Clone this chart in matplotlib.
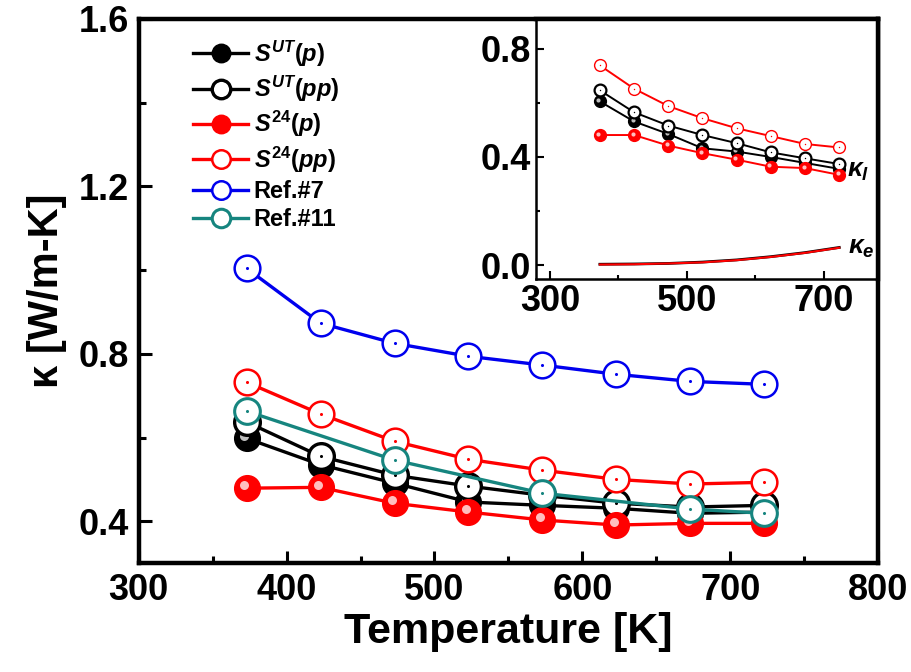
import matplotlib
matplotlib.use('Agg')
import matplotlib.pyplot as plt
from matplotlib.transforms import ScaledTranslation
from matplotlib.ticker import MultipleLocator, FixedLocator

plt.rcParams['font.family'] = ['Liberation Sans', 'DejaVu Sans']
plt.rcParams['font.weight'] = 'bold'
plt.rcParams['mathtext.fontset'] = 'custom'
plt.rcParams['mathtext.it'] = 'Liberation Sans:italic:bold'
plt.rcParams['mathtext.rm'] = 'Liberation Sans:bold'
plt.rcParams['mathtext.bf'] = 'Liberation Sans:bold'

# ---------------- data ----------------
T = [373, 423, 473, 523, 573, 623, 673, 723]
T_ref11 = [373, 473, 573, 673, 723]

k_ut_p = [0.598, 0.535, 0.491, 0.446, 0.438, 0.431, 0.419, 0.422]
k_ut_pp = [0.637, 0.555, 0.510, 0.484, 0.462, 0.443, 0.434, 0.438]
k_24_p = [0.479, 0.481, 0.443, 0.422, 0.403, 0.391, 0.395, 0.395]
k_24_pp = [0.732, 0.656, 0.591, 0.548, 0.522, 0.500, 0.489, 0.493]
k_ref7 = [1.004, 0.873, 0.825, 0.794, 0.773, 0.751, 0.734, 0.727]
k_ref11 = [0.663, 0.546, 0.467, 0.429, 0.419]

# inset: lattice and electronic parts
kl_ut_p = [0.605, 0.531, 0.485, 0.432, 0.420, 0.400, 0.378, 0.356]
kl_ut_pp = [0.646, 0.565, 0.516, 0.481, 0.451, 0.417, 0.395, 0.374]
kl_24_p = [0.481, 0.481, 0.442, 0.414, 0.390, 0.364, 0.359, 0.334]
kl_24_pp = [0.738, 0.652, 0.588, 0.543, 0.506, 0.477, 0.448, 0.435]
ke_ut = [0.004, 0.005, 0.007, 0.012, 0.020, 0.032, 0.047, 0.066]
ke_24 = [0.003, 0.004, 0.007, 0.011, 0.019, 0.031, 0.046, 0.065]

labels = [r'$S^{UT}(p)$', r'$S^{UT}(pp)$', r'$S^{24}(p)$', r'$S^{24}(pp)$', 'Ref.#7', 'Ref.#11']
inset_xticks = [300, 500, 700]
inset_xminor = [400, 600]

RED = '#ff0000'
BLUE = '#0000ee'
TEAL = '#16857f'

fig = plt.figure(figsize=(9.12, 6.72), dpi=100)
ax = fig.add_axes([0.152, 0.162, 0.811, 0.810])


def filled(a, x, y, color, ms, lw, label=None, hl=2.0):
    a.plot(x, y, '-', color=color, lw=lw, marker='o', ms=ms, mfc=color, mec=color, label=label)
    off = ScaledTranslation(-hl / 72, hl / 72, fig.dpi_scale_trans)
    a.plot(x, y, ls='none', marker='o', ms=ms * 0.35, mfc='white', mec='none', alpha=0.75,
           transform=a.transData + off)


def opened(a, x, y, color, ms, lw, mew, label=None, dotc=None):
    a.plot(x, y, '-', color=color, lw=lw, marker='o', ms=ms, mfc='white', mec=color, mew=mew, label=label)
    a.plot(x, y, ls='none', marker='o', ms=ms * 0.12, mfc=dotc or color, mec='none')


lw = 2.4
ms = 18.5
filled(ax, T, k_ut_p, 'black', ms, lw, labels[0])
opened(ax, T, k_ut_pp, 'black', ms, lw, 2.4, labels[1])
filled(ax, T, k_24_p, RED, ms, lw, labels[2])
opened(ax, T, k_24_pp, RED, ms, lw, 1.8, labels[3])
opened(ax, T, k_ref7, BLUE, ms, lw, 1.8, labels[4])
opened(ax, T_ref11, k_ref11, TEAL, ms, lw, 2.2, labels[5])

ax.set_xlim(300, 800)
ax.set_ylim(0.3, 1.6)
ax.xaxis.set_major_locator(MultipleLocator(100))
ax.xaxis.set_minor_locator(MultipleLocator(50))
ax.yaxis.set_major_locator(MultipleLocator(0.4))
ax.yaxis.set_minor_locator(MultipleLocator(0.2))
ax.yaxis.set_major_formatter(plt.FuncFormatter(lambda v, p: f'{v:.1f}'))
ax.tick_params(which='both', direction='in', top=False, right=False, width=2.2)
ax.tick_params(which='major', length=9, labelsize=26, pad=7)
ax.tick_params(which='minor', length=5)
for s in ax.spines.values():
    s.set_linewidth(3.2)
ax.set_xlabel('Temperature [K]', fontsize=31, fontweight='bold', labelpad=3)
ax.set_ylabel('κ [W/m-K]', fontsize=30, fontweight='bold', labelpad=8)

# legend (only the main handles)
handles, labs = ax.get_legend_handles_labels()
leg = ax.legend(handles, labs, loc='upper left', bbox_to_anchor=(0.055, 0.99), frameon=False,
                fontsize=17, handlelength=2.3, handletextpad=0.25, labelspacing=0.22,
                markerscale=0.72, borderaxespad=0.2)

# ---------------- inset ----------------
ins = fig.add_axes([0.588, 0.585, 0.375, 0.387])
ims = 8.5
ilw = 1.4
filled(ins, T, kl_ut_p, 'black', ims, ilw, hl=1.0)
opened(ins, T, kl_ut_pp, 'black', ims, ilw, 1.6)
filled(ins, T, kl_24_p, RED, ims, ilw, hl=1.0)
opened(ins, T, kl_24_pp, RED, ims, ilw, 1.0)
ins.plot(T, ke_ut, '-', color='black', lw=2.0)
ins.plot(T, ke_24, '-', color=RED, lw=1.5)

ins.set_xlim(280, 780)
ins.set_ylim(-0.05, 0.91)
ins.xaxis.set_major_locator(FixedLocator(inset_xticks))
ins.xaxis.set_minor_locator(FixedLocator(inset_xminor))
ins.yaxis.set_major_locator(MultipleLocator(0.4))
ins.yaxis.set_minor_locator(MultipleLocator(0.2))
ins.yaxis.set_major_formatter(plt.FuncFormatter(lambda v, p: f'{v:.1f}'))
ins.tick_params(which='both', direction='in', width=1.5)
ins.tick_params(which='major', length=6, labelsize=26, pad=4)
ins.tick_params(which='minor', length=3)
for k, s in ins.spines.items():
    s.set_linewidth(1.8 if k in ('left', 'bottom') else 3.2)
ins.text(734, 0.35, r'$\kappa_l$', fontsize=19, ha='left', va='center')
ins.text(736, 0.065, r'$\kappa_e$', fontsize=19, ha='left', va='center')

fig.savefig('out.png', dpi=100)
